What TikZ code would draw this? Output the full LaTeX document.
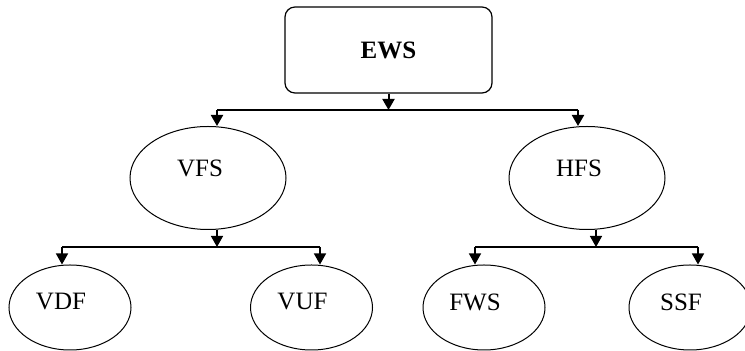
\documentclass[tikz,border=0pt]{standalone}
\usepackage{fontspec}
\setmainfont{Liberation Serif}
\usetikzlibrary{shapes.geometric, arrows.meta, positioning}

\begin{document}
\begin{tikzpicture}[
        x=0.5pt, y=-0.5pt,
        every node/.style={font=\fontsize{12.5}{14}\selectfont},
        topbox/.style={rectangle, draw, rounded corners=5pt, line width=0.6pt, minimum width=103.5pt, minimum height=43pt, align=center, font=\fontsize{12.5}{14}\selectfont\bfseries},
        oval/.style={ellipse, draw, line width=0.5pt, inner sep=0pt, minimum width=78pt, minimum height=51.5pt, label={[xshift=-4pt, yshift=5pt]center:#1}},
        leaf/.style={ellipse, draw, line width=0.5pt, inner sep=0pt, minimum width=61pt, minimum height=42.5pt, label={[xshift=-4.5pt, yshift=2.75pt]center:#1}},
        link/.style={-{Triangle[width=6pt, length=5.5pt]}, line width=1pt},
        sublink/.style={-{Triangle[width=6pt, length=5.5pt]}, line width=0.7pt}
    ]
    \useasboundingbox (0,0) rectangle (745,351);

    \node[topbox] (ews) at (388.5,50) {EWS};
    \node[oval=VFS] (vfs) at (208,178) {};
    \node[oval=HFS] (hfs) at (587,178) {};
    \node[leaf=VDF] (vdf) at (70,307.5) {};
    \node[leaf=VUF] (vuf) at (311.5,307.5) {};
    \node[leaf=FWS] (fws) at (484,307.5) {};
    \node[leaf=SSF] (ssf) at (690,307.5) {};

    % first level
    \coordinate (bus) at (388.5,110);
    \coordinate (vfsin) at (217,110);
    \coordinate (hfsin) at (578,110);
    \draw[link] (ews.south) -- (bus);
    \draw[line width=1pt] (vfsin) -- (hfsin);
    \draw[link] (vfsin) -- (vfsin |- vfs.north);
    \draw[link] (hfsin) -- (hfsin |- hfs.north);

    % second level, left
    \coordinate (vbus) at (217,247);
    \coordinate (vdfin) at (62,247);
    \coordinate (vufin) at (320,247);
    \draw[sublink] (vbus |- vfs.south) -- (vbus);
    \draw[line width=0.7pt] (vdfin) -- (vufin);
    \draw[sublink] (vdfin) -- (vdfin |- vdf.north);
    \draw[sublink] (vufin) -- (vufin |- vuf.north);

    % second level, right
    \coordinate (hbus) at (596,247);
    \coordinate (fwsin) at (475,247);
    \coordinate (ssfin) at (698,247);
    \draw[sublink] (hbus |- hfs.south) -- (hbus);
    \draw[line width=0.7pt] (fwsin) -- (ssfin);
    \draw[sublink] (fwsin) -- (fwsin |- fws.north);
    \draw[sublink] (ssfin) -- (ssfin |- ssf.north);
\end{tikzpicture}
\end{document}
